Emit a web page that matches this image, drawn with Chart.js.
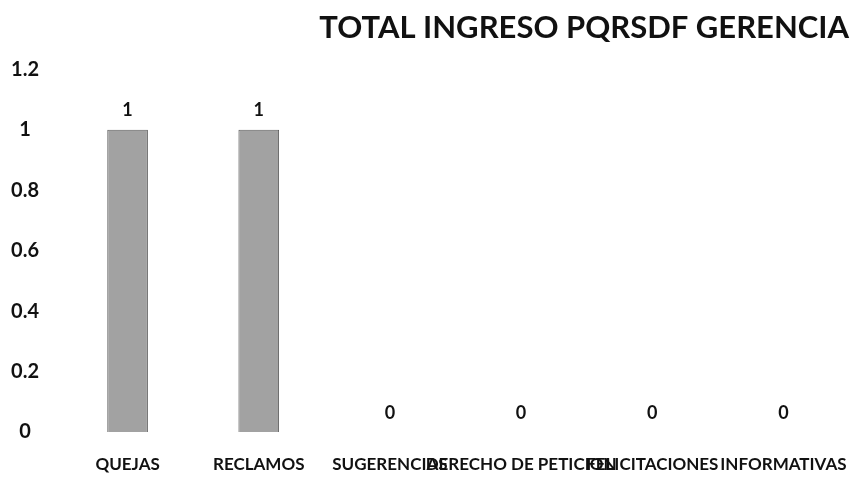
<!DOCTYPE html>
<html>
<head>
<meta charset="utf-8">
<script src="https://cdn.jsdelivr.net/npm/chart.js@4/dist/chart.umd.min.js"></script>
<style>
  html, body { margin: 0; padding: 0; background: #fff; }
  #wrap { width: 857px; height: 492px; }
</style>
</head>
<body>
<div id="wrap"><canvas id="pqrsdf-chart"></canvas></div>
<script>
// Data
const categories = ['QUEJAS', 'RECLAMOS', 'SUGERENCIAS', 'DERECHO DE PETICION', 'FELICITACIONES', 'INFORMATIVAS'];
const totals = [1, 1, 0, 0, 0, 0];
const yTickLabels = ['0', '0.2', '0.4', '0.6', '0.8', '1', '1.2'];

const fontFamily = 'Lato, "Open Sans", sans-serif';

// Draw the value above each bar
const valueLabels = {
    id: 'valueLabels',
    afterDatasetsDraw(chart) {
        const ctx = chart.ctx;
        const meta = chart.getDatasetMeta(0);
        ctx.save();
        ctx.font = 'bold 18px ' + fontFamily;
        ctx.fillStyle = '#111';
        ctx.textAlign = 'center';
        ctx.textBaseline = 'bottom';
        meta.data.forEach((bar, i) => {
            ctx.fillText(String(totals[i]), bar.x, bar.y - 10);
        });
        ctx.restore();
    }
};

const progressChart = document.getElementById('pqrsdf-chart');

const myChart = new Chart(progressChart, {
    type: 'bar',
    data: {
        labels: categories,
        datasets: [{
            label: 'Total',
            data: totals,
            backgroundColor: '#a2a2a2',
            borderColor: '#5e5e5e',
            borderWidth: 1,
            categoryPercentage: 1,
            barPercentage: 0.31
        }]
    },
    options: {
        responsive: true,
        maintainAspectRatio: false,
        animation: false,
        layout: {
            padding: { left: 4, right: 8, top: 9, bottom: 0 }
        },
        plugins: {
            legend: { display: false },
            tooltip: { enabled: false },
            title: {
                display: true,
                text: 'TOTAL INGRESO PQRSDF GERENCIA',
                align: 'end',
                color: '#111',
                font: { family: fontFamily, size: 31, weight: 'bold' },
                padding: { top: 0, bottom: 23 }
            }
        },
        scales: {
            x: {
                grid: { display: false, drawTicks: false },
                border: { display: false },
                // labels overlap in the original, so keep the full width
                afterFit(scale) {
                    scale.height = 60;
                    scale.paddingLeft = 0;
                    scale.paddingRight = 0;
                },
                ticks: {
                    autoSkip: false,
                    maxRotation: 0,
                    minRotation: 0,
                    padding: 22,
                    color: '#111',
                    font: { family: fontFamily, size: 17, weight: 'bold' }
                }
            },
            y: {
                min: 0,
                max: 1.2,
                grid: { display: false, drawTicks: false },
                border: { display: false },
                afterFit(scale) { scale.width = 58; },
                ticks: {
                    stepSize: 0.2,
                    crossAlign: 'center',
                    padding: 23,
                    color: '#111',
                    font: { family: fontFamily, size: 20, weight: 'bold' },
                    callback: (value, index) => yTickLabels[index]
                }
            }
        }
    },
    plugins: [valueLabels]
});
</script>
</body>
</html>
